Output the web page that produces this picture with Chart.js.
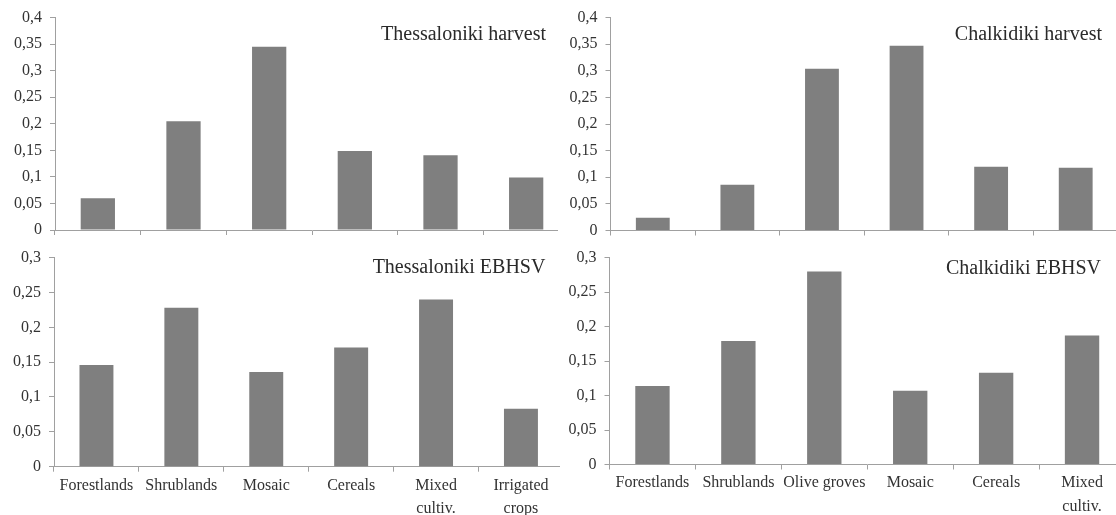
<!DOCTYPE html>
<html>
<head>
<meta charset="utf-8">
<script src="https://cdn.jsdelivr.net/npm/chart.js@4.4.1/dist/chart.umd.min.js"></script>
<style>
  html, body { margin: 0; padding: 0; background: #fff; }
  body { width: 1116px; height: 515px; overflow: hidden; position: relative; }
  .panel { position: absolute; overflow: hidden; }
  .panel canvas { position: absolute; left: 0; top: 0; }
</style>
</head>
<body>
<div class="panel" id="p1" style="left:0;top:0;width:558px;height:240px"><canvas id="c1" width="575" height="252"></canvas></div>
<div class="panel" id="p2" style="left:560px;top:0;width:556px;height:240px"><canvas id="c2" width="560" height="252"></canvas></div>
<div class="panel" id="p3" style="left:0;top:240px;width:560px;height:275px"><canvas id="c3" width="575" height="275"></canvas></div>
<div class="panel" id="p4" style="left:560px;top:240px;width:556px;height:275px"><canvas id="c4" width="570" height="275"></canvas></div>
<script>
// Land-cover categories per region
const thessCategories = ['Forestlands', 'Shrublands', 'Mosaic', 'Cereals', ['Mixed', 'cultiv.'], ['Irrigated', 'crops']];
const chalkCategories = ['Forestlands', 'Shrublands', 'Olive groves', 'Mosaic', 'Cereals', ['Mixed', 'cultiv.']];

// Shares per category
const thessHarvest = [0.060, 0.205, 0.345, 0.149, 0.141, 0.099];
const chalkHarvest = [0.024, 0.086, 0.304, 0.347, 0.120, 0.118];
const thessEbhsv   = [0.146, 0.228, 0.136, 0.171, 0.240, 0.083];
const chalkEbhsv   = [0.114, 0.179, 0.280, 0.107, 0.133, 0.187];

// Value-axis tick labels (decimal comma)
const harvestTicks = ['0', '0,05', '0,1', '0,15', '0,2', '0,25', '0,3', '0,35', '0,4'];
const ebhsvTicks   = ['0', '0,05', '0,1', '0,15', '0,2', '0,25', '0,3'];

const AXIS = '#a0a0a0';
const BAR = '#7f7f7f';
const TEXT = '#333333';
const SERIF = '"Liberation Serif", "DejaVu Serif", serif';

// Writes the panel heading inside the plot area, right-aligned
const panelTitle = {
  id: 'panelTitle',
  afterDraw(chart, args, opts) {
    const { ctx, chartArea } = chart;
    ctx.save();
    ctx.font = '20px ' + SERIF;
    ctx.fillStyle = '#2a2a2a';
    ctx.textAlign = 'right';
    ctx.textBaseline = 'middle';
    ctx.fillText(opts.text, chartArea.right - opts.inset, chartArea.top + opts.dy);
    ctx.restore();
  }
};

function makePanel(id, cats, values, tickLabels, geom) {
  const yMax = (tickLabels.length - 1) * 0.05;
  return new Chart(document.getElementById(id), {
    type: 'bar',
    data: {
      labels: cats,
      datasets: [{
        data: values,
        backgroundColor: BAR,
        borderWidth: 0,
        categoryPercentage: 1,
        barPercentage: 0.4
      }]
    },
    plugins: [panelTitle],
    options: {
      responsive: false,
      devicePixelRatio: 1,
      animation: false,
      events: [],
      layout: { padding: { top: geom.top, right: geom.right, left: 0, bottom: 0 } },
      plugins: {
        legend: { display: false },
        tooltip: { enabled: false },
        panelTitle: { text: geom.title, inset: geom.inset, dy: geom.dy }
      },
      scales: {
        x: {
          offset: true,
          border: { display: true, color: AXIS, width: 1 },
          grid: { offset: true, drawOnChartArea: false, drawTicks: true, tickLength: 5, color: AXIS },
          ticks: {
            display: geom.showX,
            autoSkip: false,
            maxRotation: 0,
            minRotation: 0,
            padding: 2,
            color: TEXT,
            font: { family: SERIF, size: 16, lineHeight: 1.45 }
          },
          afterFit(scale) { scale.height = geom.xh; }
        },
        y: {
          min: 0,
          max: yMax,
          border: { display: true, color: AXIS, width: 1 },
          grid: { drawOnChartArea: false, drawTicks: true, tickLength: 5, color: AXIS },
          ticks: {
            stepSize: 0.05,
            padding: 8,
            color: TEXT,
            font: { family: SERIF, size: 16 },
            callback(value, index) { return tickLabels[index]; }
          },
          afterFit(scale) { scale.width = geom.yw; }
        }
      }
    }
  });
}

makePanel('c1', thessCategories, thessHarvest, harvestTicks,
  { top: 15, right: 6, xh: 22, yw: 55, showX: false, title: 'Thessaloniki harvest', inset: 23, dy: 17 });
makePanel('c2', chalkCategories, chalkHarvest, harvestTicks,
  { top: 15, right: 2, xh: 21.5, yw: 50.5, showX: false, title: 'Chalkidiki harvest', inset: 16, dy: 17 });
makePanel('c3', thessCategories, thessEbhsv, ebhsvTicks,
  { top: 15, right: 11.6, xh: 48.3, yw: 54, showX: true, title: 'Thessaloniki EBHSV', inset: 18, dy: 10 });
makePanel('c4', chalkCategories, chalkEbhsv, ebhsvTicks,
  { top: 14, right: 5, xh: 50.5, yw: 49.5, showX: true, title: 'Chalkidiki EBHSV', inset: 24, dy: 11 });
</script>
</body>
</html>
